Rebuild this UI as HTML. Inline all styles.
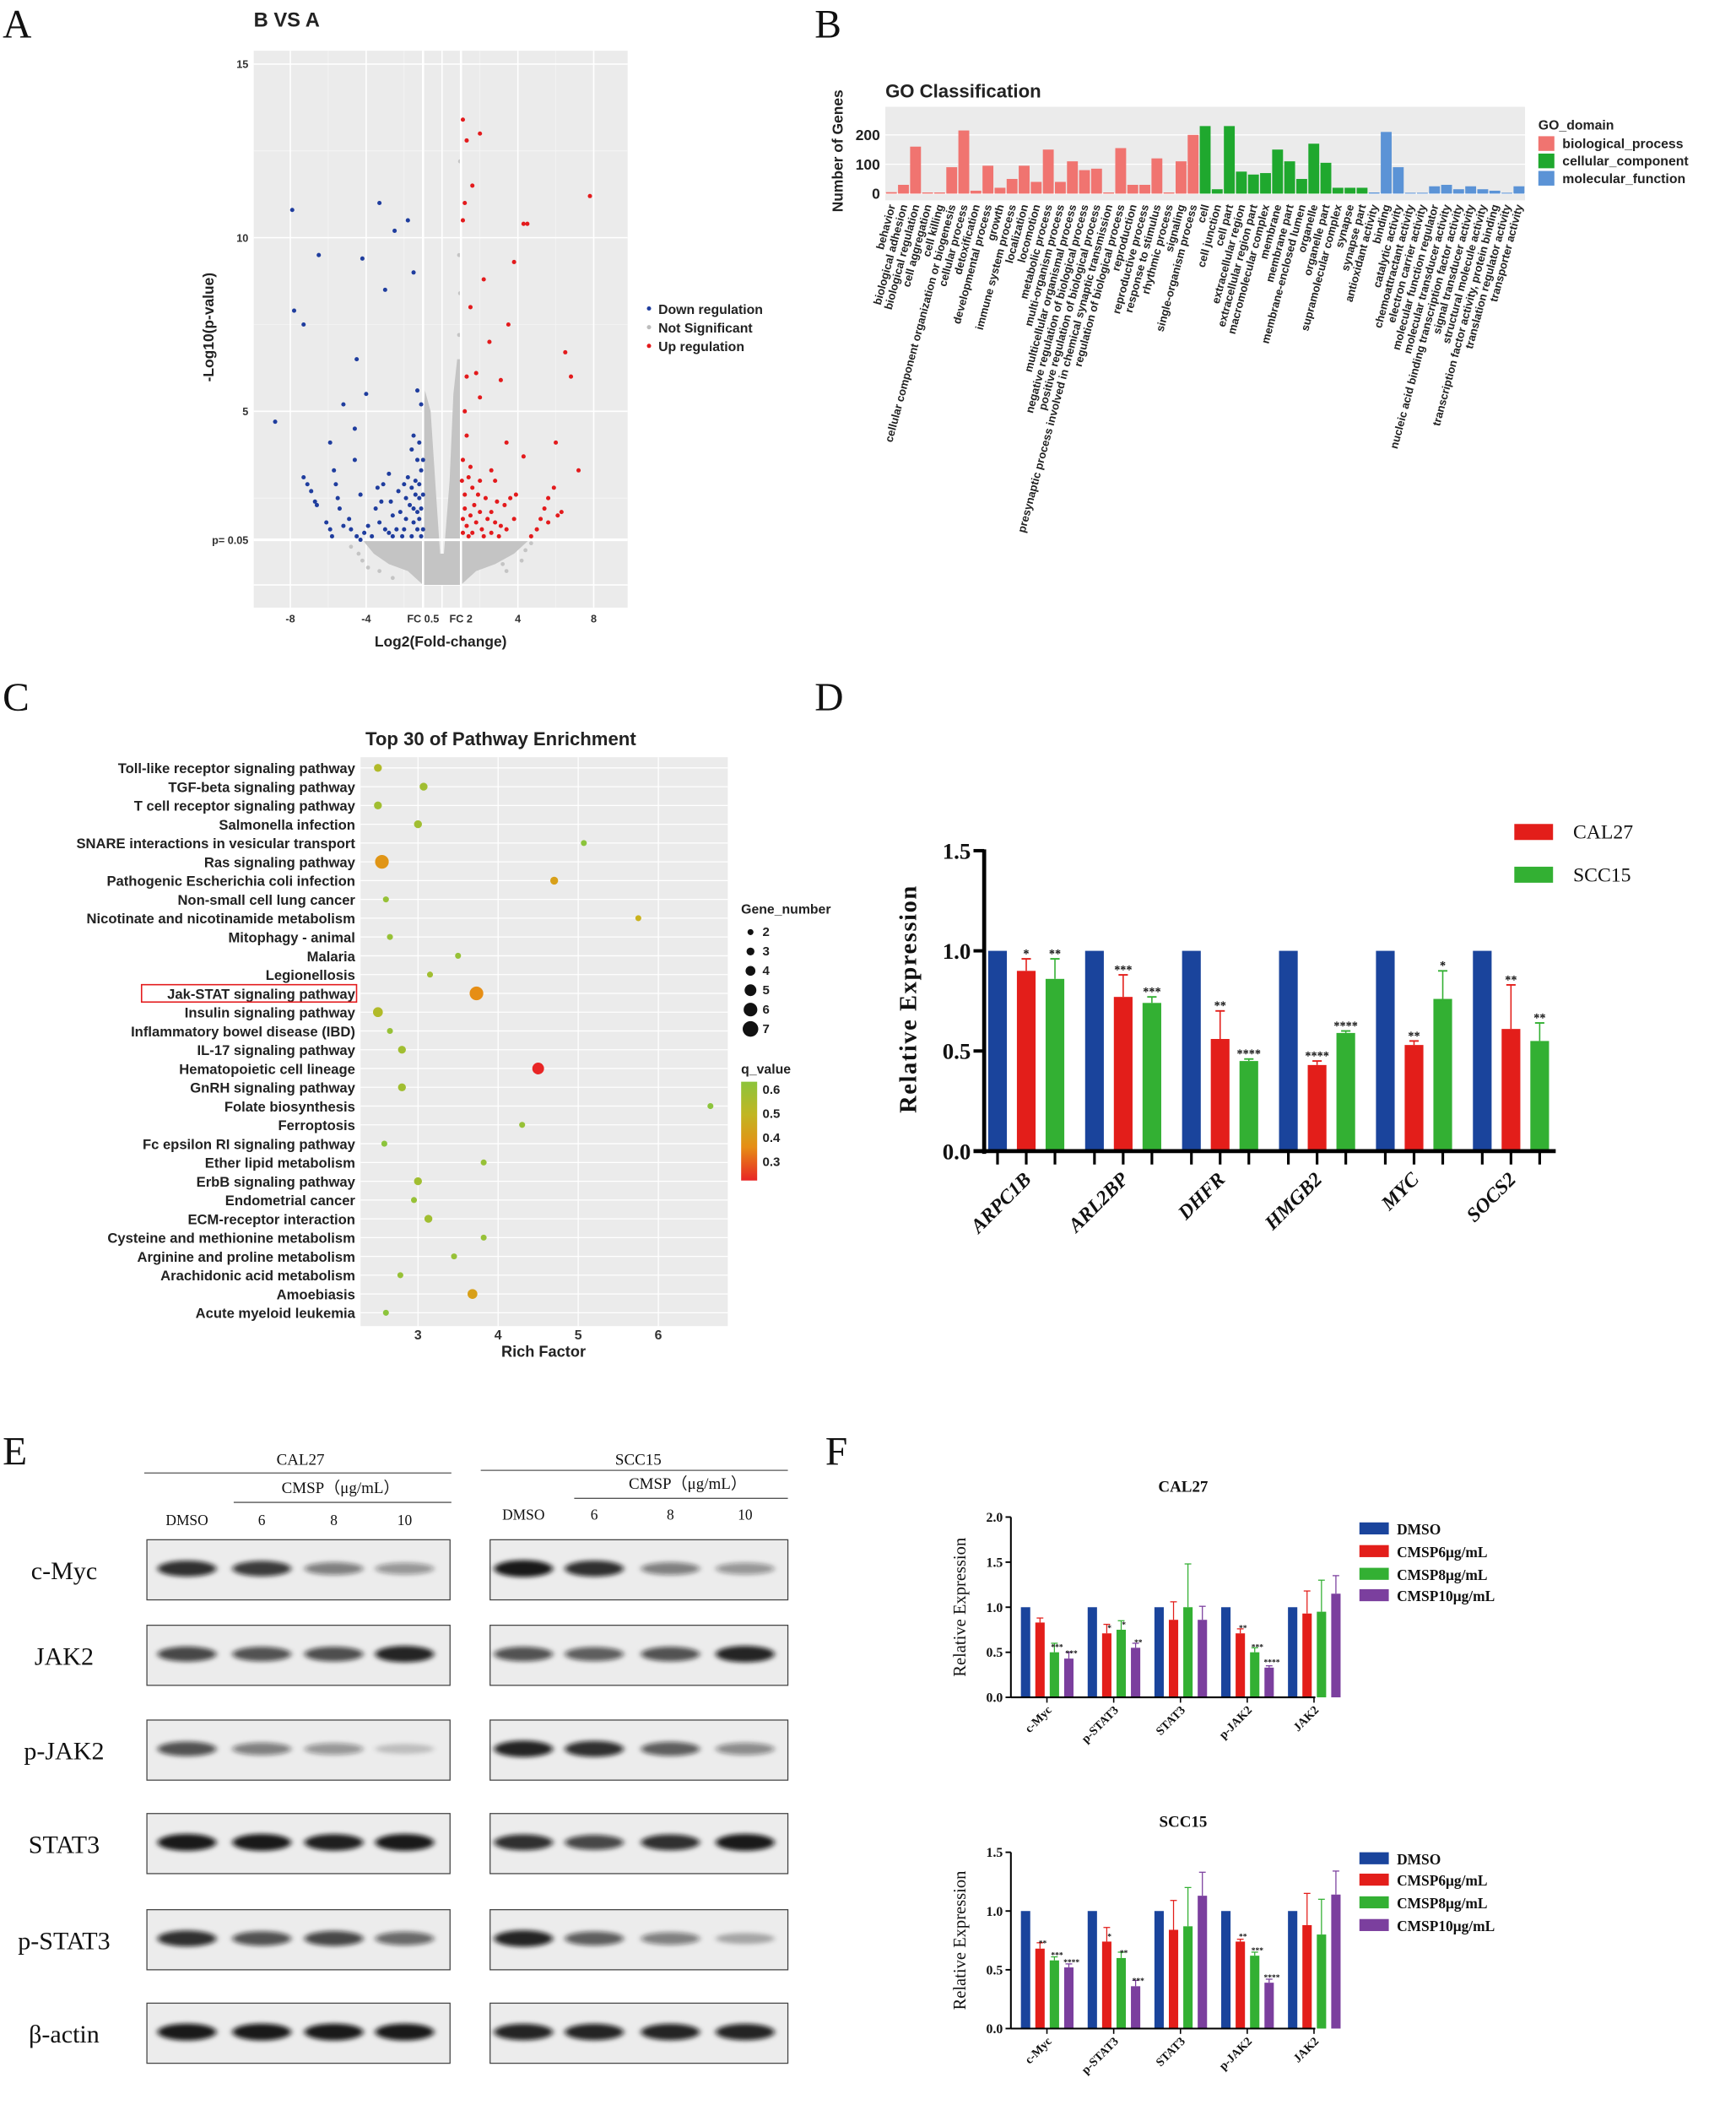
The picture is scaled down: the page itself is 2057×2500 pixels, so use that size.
<!DOCTYPE html>
<html><head><meta charset="utf-8"><style>
html,body{margin:0;padding:0;background:#fff}
svg{display:block}
.ss{font-family:"Liberation Sans",Arial,sans-serif;font-weight:bold}
.sf{font-family:"Liberation Serif","Times New Roman",serif}
</style></head><body>
<svg id="fig" width="2057" height="2500" viewBox="0 0 1300 1580" xmlns="http://www.w3.org/2000/svg">
<g id="letters" class="sf" font-size="30" fill="#111">
<text x="2" y="28">A</text>
<text x="610" y="28">B</text>
<text x="2" y="532">C</text>
<text x="610" y="532">D</text>
<text x="2" y="1097">E</text>
<text x="618" y="1097">F</text>
</g>
<g id="pA"></g>
<g id="pB"></g>
<g id="pC"></g>
<g id="pD"></g>
<g id="pE"></g>
<g id="pF"></g>
</svg>
<script>
// ---------- Panel A data ----------
const volcanoBlue = [[-8.8,4.7],[-7.8,7.9],[-7.3,7.5],[-7.9,10.8],[-6.5,9.5],[-4.2,9.4],[-3.3,11],[-2.5,10.2],[-3,8.5],[-1.8,10.5],[-1.5,9],[-4.5,6.5],[-4,5.5],[-5.2,5.2],[-4.6,4.5],[-4.6,3.6],[-4.3,2.6],[-1.6,3.9],[-2.8,3.2],[-3.4,2.8],[-3.1,2.9],[-7.3,3.1],[-7.1,2.9],[-6.9,2.7],[-6.7,2.4],[-6.6,2.3],[-5.9,4.1],[-5.7,3.3],[-5.6,2.9],[-5.5,2.5],[-5.4,2.2],[-6.1,1.8],[-5.9,1.6],[-5.8,1.4],[-5.2,1.7],[-4.9,1.9],[-4.8,1.6],[-4.5,1.4],[-4.3,1.3],[-3.5,2.2],[-3.3,1.8],[-3.0,1.6],[-2.8,1.5],[-2.6,1.4],[-2.6,2.0],[-2.2,2.1],[-2.0,1.6],[-1.9,1.9],[-1.7,2.3],[-1.5,1.8],[-1.3,1.6],[-1.2,1.9],[-1.1,2.2],[-1.4,2.6],[-1.2,2.9],[-1.1,3.3],[-1.3,3.6],[-1.1,1.4],[-1.6,1.4],[-2.3,2.7],[-2.0,2.9],[-1.8,3.1],[-1.4,3.0],[-1.2,2.5],[-1.5,2.2],[-2.4,1.6],[-1.9,2.5],[-1.6,2.8],[-1.3,2.1],[-1.0,1.6],[-1.0,2.6],[-1.0,3.6],[-1.5,4.3],[-1.2,4.1],[-2.1,1.4],[-3.7,1.4],[-3.9,1.7],[-4.1,1.5],[-2.7,2.4],[-3.2,2.4],[-1.1,5.2],[-1.3,5.6]];
const volcanoRed = [[1.1,13.4],[1.3,12.8],[2,13],[1.2,11],[1.6,11.5],[1.1,10.5],[4.3,10.4],[4.5,10.4],[7.8,11.2],[3.8,9.3],[2.2,8.8],[1.5,8],[2.5,7],[3.5,7.5],[6.5,6.7],[6.8,6],[1.3,6],[1.8,6.1],[3.1,5.9],[2.0,5.4],[3.4,4.1],[4.3,3.7],[6.0,4.1],[7.2,3.3],[5.9,2.8],[5.6,2.5],[5.4,2.2],[5.2,1.9],[5.0,1.6],[4.7,1.4],[5.6,1.8],[6.1,2.0],[6.3,2.1],[1.3,4.3],[1.1,3.6],[2.6,3.3],[2.8,3.0],[1.4,3.1],[1.6,2.8],[1.9,2.6],[2.3,2.5],[2.9,2.4],[3.3,2.3],[3.6,2.5],[1.2,2.2],[1.5,2.0],[1.8,1.8],[2.1,1.6],[2.6,1.5],[3.0,1.4],[3.4,1.6],[3.8,1.9],[1.1,1.5],[1.3,1.7],[1.6,1.5],[2.0,2.1],[2.4,1.9],[2.8,1.8],[1.2,2.6],[1.1,1.9],[1.4,1.4],[1.7,2.3],[2.2,1.4],[2.6,2.1],[3.1,1.7],[1.05,3.0],[1.5,3.4],[2.0,3.0],[3.9,2.6],[1.2,5.0]];
const greyShape = [[-4.2,1.3],[-1,1.3],[-1,4.5],[-0.9,5.6],[-0.6,5],[-0.3,2.5],[-0.1,0.9],[0.1,0.9],[0.4,3],[0.6,5.5],[0.8,6.5],[1,6.5],[1,1.3],[4.6,1.3],[3.8,0.9],[2.8,0.6],[1.8,0.4],[1,0],[-1,0],[-1.8,0.4],[-2.8,0.6],[-3.6,0.9]];
const greyDots = [[-4.8,1.1],[-4.4,0.9],[-4.2,0.7],[-3.9,0.5],[-3.3,0.4],[-2.6,0.2],[3.2,0.6],[3.4,0.4],[4.2,0.7],[4.4,1.0],[4.7,1.2],[0.9,7.2],[0.95,8.4],[0.9,9.5],[0.95,12.2]];
const volXTicks = [-8,-4,4,8];
const volYTicks = [5,10,15];

// ---------- Panel B data ----------
const goCats = ["behavior","biological adhesion","biological regulation","cell aggregation","cell killing","cellular component organization or biogenesis","cellular process","detoxification","developmental process","growth","immune system process","localization","locomotion","metabolic process","multi-organism process","multicellular organismal process","negative regulation of biological process","positive regulation of biological process","presynaptic process involved in chemical synaptic transmission","regulation of biological process","reproduction","reproductive process","response to stimulus","rhythmic process","signaling","single-organism process","cell","cell junction","cell part","extracellular region","extracellular region part","macromolecular complex","membrane","membrane part","membrane-enclosed lumen","organelle","organelle part","supramolecular complex","synapse","synapse part","antioxidant activity","binding","catalytic activity","chemoattractant activity","electron carrier activity","molecular function regulator","molecular transducer activity","nucleic acid binding transcription factor activity","signal transducer activity","structural molecule activity","transcription factor activity, protein binding","translation regulator activity","transporter activity"];
const goValues = [5,30,160,4,4,90,215,10,95,20,50,95,40,150,40,110,80,85,4,155,30,30,120,4,110,200,230,15,230,75,65,70,150,110,50,170,105,20,20,20,4,210,90,3,3,25,30,15,25,15,10,3,25];
const goDomain = [0,0,0,0,0,0,0,0,0,0,0,0,0,0,0,0,0,0,0,0,0,0,0,0,0,0,1,1,1,1,1,1,1,1,1,1,1,1,1,1,2,2,2,2,2,2,2,2,2,2,2,2,2];
const goDomainNames = ["biological_process","cellular_component","molecular_function"];
const goYTicks = [0,100,200];

// ---------- Panel C data ----------
const pathNames = ["Toll-like receptor signaling pathway","TGF-beta signaling pathway","T cell receptor signaling pathway","Salmonella infection","SNARE interactions in vesicular transport","Ras signaling pathway","Pathogenic Escherichia coli infection","Non-small cell lung cancer","Nicotinate and nicotinamide metabolism","Mitophagy - animal","Malaria","Legionellosis","Jak-STAT signaling pathway","Insulin signaling pathway","Inflammatory bowel disease (IBD)","IL-17 signaling pathway","Hematopoietic cell lineage","GnRH signaling pathway","Folate biosynthesis","Ferroptosis","Fc epsilon RI signaling pathway","Ether lipid metabolism","ErbB signaling pathway","Endometrial cancer","ECM-receptor interaction","Cysteine and methionine metabolism","Arginine and proline metabolism","Arachidonic acid metabolism","Amoebiasis","Acute myeloid leukemia"];
const richFactor = [2.5,3.07,2.5,3.0,5.07,2.55,4.7,2.6,5.75,2.65,3.5,3.15,3.73,2.5,2.65,2.8,4.5,2.8,6.65,4.3,2.58,3.82,3.0,2.95,3.13,3.82,3.45,2.78,3.68,2.6];
const geneNumber = [3,3,3,3,2,6,3,2,2,2,2,2,6,4,2,3,5,3,2,2,2,2,3,2,3,2,2,2,4,2];
const qValue = [0.55,0.58,0.58,0.58,0.62,0.42,0.45,0.6,0.5,0.6,0.6,0.58,0.4,0.55,0.6,0.58,0.28,0.58,0.62,0.6,0.62,0.6,0.58,0.6,0.58,0.6,0.6,0.6,0.45,0.62];
const richTicks = [3,4,5,6];
const geneLegend = [2,3,4,5,6,7];
const qTicks = [0.6,0.5,0.4,0.3];

// ---------- Panel D data ----------
const dGenes = ["ARPC1B","ARL2BP","DHFR","HMGB2","MYC","SOCS2"];
const dBlue = [1,1,1,1,1,1];
const dRed = [0.9,0.77,0.56,0.43,0.53,0.61];
const dGreen = [0.86,0.74,0.45,0.59,0.76,0.55];
const dRedErr = [0.06,0.11,0.14,0.02,0.02,0.22];
const dGreenErr = [0.1,0.03,0.01,0.01,0.14,0.09];
const dRedStars = ["*","***","**","****","**","**"];
const dGreenStars = ["**","***","****","****","*","**"];
const dYTicks = [0,0.5,1.0,1.5];

// ---------- Panel E data ----------
const blotProteins = ["c-Myc","JAK2","p-JAK2","STAT3","p-STAT3","β-actin"];
const blotCal27 = [[0.85,0.8,0.5,0.4],[0.75,0.7,0.72,0.9],[0.7,0.5,0.4,0.2],[0.95,0.95,0.92,0.95],[0.85,0.7,0.75,0.6],[0.95,0.95,0.95,0.95]];
const blotScc15 = [[0.95,0.85,0.5,0.4],[0.7,0.65,0.7,0.9],[0.9,0.85,0.65,0.45],[0.85,0.75,0.85,0.95],[0.9,0.65,0.5,0.3],[0.9,0.9,0.9,0.9]];
const laneLabels = ["DMSO","6","8","10"];

// ---------- Panel F data ----------
const fProteins = ["c-Myc","p-STAT3","STAT3","p-JAK2","JAK2"];
const fSeries = ["DMSO","CMSP6μg/mL","CMSP8μg/mL","CMSP10μg/mL"];
const fCal27 = [[1,0.83,0.5,0.43],[1,0.71,0.75,0.55],[1,0.86,1.0,0.86],[1,0.71,0.5,0.33],[1,0.93,0.95,1.15]];
const fCal27Err = [[0,0.05,0.1,0.07],[0,0.1,0.1,0.05],[0,0.2,0.48,0.15],[0,0.05,0.05,0.02],[0,0.25,0.35,0.2]];
const fCal27Stars = [["","","***","***"],["","*","*","**"],["","","",""],["","**","***","****"],["","","",""]];
const fScc15 = [[1,0.68,0.58,0.52],[1,0.74,0.6,0.36],[1,0.84,0.87,1.13],[1,0.74,0.62,0.39],[1,0.88,0.8,1.14]];
const fScc15Err = [[0,0.05,0.03,0.03],[0,0.12,0.05,0.05],[0,0.25,0.33,0.2],[0,0.02,0.03,0.03],[0,0.27,0.3,0.2]];
const fScc15Stars = [["","**","***","****"],["","*","**","***"],["","","",""],["","**","***","****"],["","","",""]];
const fCalTicks = [0,0.5,1.0,1.5,2.0];
const fSccTicks = [0,0.5,1.0,1.5];

const NS="http://www.w3.org/2000/svg";
function mk(parent,tag,attrs,text){const e=document.createElementNS(NS,tag);for(const k in attrs)e.setAttribute(k,attrs[k]);if(text!==undefined)e.textContent=text;parent.appendChild(e);return e;}

// ================= Panel A =================
(function(){
const g=document.getElementById('pA');
const X0=190,X1=470,Y0=38,Y1=455;
const xs=v=>331+v*14.2, ys=v=>438-v*26;
let bg=mk(g,'rect',{x:X0,y:Y0,width:X1-X0,height:Y1-Y0,fill:'#ebebeb'});


[-6,-2,2,6].forEach(v=>mk(g,'line',{x1:xs(v),x2:xs(v),y1:Y0,y2:Y1,stroke:'#f5f5f5','stroke-width':0.5}));
[2.5,7.5,12.5].forEach(v=>mk(g,'line',{x1:X0,x2:X1,y1:ys(v),y2:ys(v),stroke:'#f5f5f5','stroke-width':0.5}));
volXTicks.concat([0]).forEach(v=>mk(g,'line',{x1:xs(v),x2:xs(v),y1:Y0,y2:Y1,stroke:'#fff','stroke-width':1}));
volYTicks.concat([0]).forEach(v=>mk(g,'line',{x1:X0,x2:X1,y1:ys(v),y2:ys(v),stroke:'#fff','stroke-width':1}));
let poly=mk(g,'polygon',{points:greyShape.map(p=>xs(p[0])+','+ys(p[1])).join(' '),fill:'#c4c4c4'});


greyDots.forEach(p=>{const c=mk(g,'circle',{cx:xs(p[0]),cy:ys(p[1]),r:1.5,fill:'#c4c4c4'});});
[-1,1].forEach(v=>mk(g,'line',{x1:xs(v),x2:xs(v),y1:Y0,y2:Y1,stroke:'#fff','stroke-width':1.6}));
mk(g,'line',{x1:X0,x2:X1,y1:ys(1.3),y2:ys(1.3),stroke:'#fff','stroke-width':2});
volcanoBlue.forEach(p=>{const c=mk(g,'circle',{cx:xs(p[0]),cy:ys(p[1]),r:1.6,fill:'#1f3d9e'});});
volcanoRed.forEach(p=>{const c=mk(g,'circle',{cx:xs(p[0]),cy:ys(p[1]),r:1.6,fill:'#e31a1c'});});
const t=mk(g,'g',{class:'ss','font-size':8,fill:'#333'});
volXTicks.forEach(v=>mk(t,'text',{x:xs(v),y:466,'text-anchor':'middle'},String(v)));
mk(t,'text',{x:xs(-1),y:466,'text-anchor':'middle'},'FC 0.5');
mk(t,'text',{x:xs(1),y:466,'text-anchor':'middle'},'FC 2');
volYTicks.forEach(v=>mk(t,'text',{x:186,y:ys(v)+3,'text-anchor':'end'},String(v)));
mk(t,'text',{x:186,y:ys(1.3)+3,'text-anchor':'end'},'p= 0.05');
let xt=mk(g,'text',{x:330,y:484,class:'ss','font-size':11,'text-anchor':'middle',fill:'#222'},'Log2(Fold-change)');

let yt=mk(g,'text',{x:0,y:0,class:'ss','font-size':11,'text-anchor':'middle',fill:'#222',transform:'translate(160,245) rotate(-90)'},'-Log10(p-value)');

let tt=mk(g,'text',{x:190,y:20,class:'ss','font-size':15,fill:'#222'},'B VS A');

const leg=[['Down regulation','#1f3d9e'],['Not Significant','#bdbdbd'],['Up regulation','#e31a1c']];
leg.forEach((l,i)=>{const lg=mk(g,'g',{});
mk(lg,'circle',{cx:486,cy:231+i*14,r:1.6,fill:l[1]});mk(lg,'text',{x:493,y:235+i*14,class:'ss','font-size':10,fill:'#222'},l[0]);});
})();

// ================= Panel B =================
(function(){
const g=document.getElementById('pB');
const X0=663,X1=1142,Y0=80,Y1=150,ybase=145;
const colors=['#f07470','#1fa82e','#5b93d6'];
const ys=v=>ybase-v*0.22;
const bw=(X1-X0)/goCats.length;
let bg=mk(g,'rect',{x:X0,y:Y0,width:X1-X0,height:Y1-Y0,fill:'#ebebeb'});

goYTicks.forEach(v=>mk(g,'line',{x1:X0,x2:X1,y1:ys(v),y2:ys(v),stroke:'#fff','stroke-width':0.8}));
goValues.forEach((v,i)=>{
 const x=X0+i*bw+bw*0.05;
 const r=mk(g,'rect',{x:x,y:ys(v),width:bw*0.9,height:v*0.22,fill:colors[goDomain[i]]});
 
 const cx=X0+i*bw+bw*0.5+3;
 mk(g,'text',{x:0,y:0,class:'ss','font-size':8.3,'text-anchor':'end',fill:'#222',transform:`translate(${cx},${Y1+4}) rotate(-75)`},goCats[i]);
});
goYTicks.forEach(v=>mk(g,'text',{x:X0-4,y:ys(v)+4,class:'ss','font-size':11,'text-anchor':'end',fill:'#222'},String(v)));
let yt=mk(g,'text',{x:0,y:0,class:'ss','font-size':11,'text-anchor':'middle',fill:'#222',transform:'translate(631,113) rotate(-90)'},'Number of Genes');

let tt=mk(g,'text',{x:663,y:73,class:'ss','font-size':14,fill:'#222'},'GO Classification');

mk(g,'text',{x:1152,y:97,class:'ss','font-size':10,fill:'#222'},'GO_domain');
goDomainNames.forEach((n,i)=>{const lg=mk(g,'g',{});
 mk(lg,'rect',{x:1152,y:102+i*13,width:12,height:11,fill:colors[i]});mk(lg,'text',{x:1170,y:111+i*13,class:'ss','font-size':10,fill:'#222'},n);});
})();

// ================= Panel C =================
(function(){
const g=document.getElementById('pC');
const X0=270,X1=545,Y0=567,Y1=993;
const xs=v=>313+(v-3)*60, ys=i=>575+i*14.07;
const rs=n=>0.8+n*0.72;
function qcol(q){const t=Math.max(0,Math.min(1,(q-0.28)/(0.62-0.28)));
 const stops=[[232,37,37],[232,140,20],[200,180,30],[140,196,60]];const p=t*3,i=Math.min(2,Math.floor(p)),f=p-i;
 const c=stops[i].map((s,k)=>Math.round(s+(stops[i+1][k]-s)*f));return `rgb(${c[0]},${c[1]},${c[2]})`;}
let bg=mk(g,'rect',{x:X0,y:Y0,width:X1-X0,height:Y1-Y0,fill:'#ebebeb'});

richTicks.forEach(v=>mk(g,'line',{x1:xs(v),x2:xs(v),y1:Y0,y2:Y1,stroke:'#fff','stroke-width':0.8}));
pathNames.forEach((n,i)=>{mk(g,'line',{x1:X0,x2:X1,y1:ys(i),y2:ys(i),stroke:'#fff','stroke-width':0.8});
 const lab=mk(g,'text',{x:266,y:ys(i)+4,class:'ss','font-size':10.5,'text-anchor':'end',fill:'#222'},n);
 });
richFactor.forEach((v,i)=>{const c=mk(g,'circle',{cx:xs(v),cy:ys(i),r:rs(geneNumber[i]),fill:qcol(qValue[i])});
 });
const hl=mk(g,'rect',{x:106,y:ys(12)-6.5,width:161,height:13,fill:'none',stroke:'#e31a1c','stroke-width':1});

richTicks.forEach(v=>mk(g,'text',{x:xs(v),y:1003,class:'ss','font-size':10,'text-anchor':'middle',fill:'#333'},String(v)));
let xt=mk(g,'text',{x:407,y:1016,class:'ss','font-size':11.5,'text-anchor':'middle',fill:'#222'},'Rich Factor');

let tt=mk(g,'text',{x:375,y:558,class:'ss','font-size':14,'text-anchor':'middle',fill:'#222'},'Top 30 of Pathway Enrichment');

mk(g,'text',{x:555,y:684,class:'ss','font-size':10,fill:'#222'},'Gene_number');
geneLegend.forEach((n,i)=>{const lg=mk(g,'g',{});
 mk(lg,'circle',{cx:562,cy:698+i*14.5,r:rs(n),fill:'#111'});mk(lg,'text',{x:571,y:701+i*14.5,class:'ss','font-size':9.5,fill:'#222'},String(n));});
mk(g,'text',{x:555,y:804,class:'ss','font-size':10,fill:'#222'},'q_value');
const defs=mk(g,'defs',{});const lgr=mk(defs,'linearGradient',{id:'qgrad',x1:0,y1:0,x2:0,y2:1});
[[0,0.62],[0.33,0.52],[0.66,0.4],[1,0.28]].forEach(s=>mk(lgr,'stop',{offset:s[0],'stop-color':qcol(s[1])}));
const cb=mk(g,'rect',{x:555,y:810,width:12,height:74,fill:'url(#qgrad)'});

qTicks.forEach(v=>mk(g,'text',{x:571,y:819+(0.6-v)*180,class:'ss','font-size':9.5,fill:'#222'},v.toFixed(1)));
})();

// ================= Panel D =================
(function(){
const g=document.getElementById('pD');
const ax=737,y0=862,ys=v=>y0-v*150;
const gx=i=>747+i*72.6;
const bw=14;
const series=[[dBlue,'#1a449c',null,null],[dRed,'#e31e1a',dRedErr,dRedStars],[dGreen,'#33b033',dGreenErr,dGreenStars]];
dGenes.forEach((gn,i)=>{
 series.forEach((s,k)=>{
  const cx=gx(i)+k*21.5, v=s[0][i];
  const r=mk(g,'rect',{x:cx-bw/2,y:ys(v),width:bw,height:v*150,fill:s[1]});
  
  if(s[2]){const top=ys(v+s[2][i]);
   mk(g,'line',{x1:cx,x2:cx,y1:ys(v),y2:top,stroke:s[1],'stroke-width':1});
   mk(g,'line',{x1:cx-3.5,x2:cx+3.5,y1:top,y2:top,stroke:s[1],'stroke-width':1.2});
   mk(g,'text',{x:cx,y:top-1,class:'sf','font-size':9,'font-weight':'bold','text-anchor':'middle',fill:'#111'},s[3][i]);}
  mk(g,'line',{x1:cx,x2:cx,y1:y0,y2:y0+10,stroke:'#000','stroke-width':2});
 });
 mk(g,'text',{x:0,y:0,class:'sf','font-size':15,'font-weight':'bold','font-style':'italic','text-anchor':'end',fill:'#111',transform:`translate(${gx(i)+26},${y0+22}) rotate(-45)`},gn);
});
mk(g,'line',{x1:ax,x2:ax,y1:ys(1.5)-1,y2:y0+2,stroke:'#000','stroke-width':3});
mk(g,'line',{x1:ax-8,x2:1165,y1:y0,y2:y0,stroke:'#000','stroke-width':3});
dYTicks.forEach(v=>{mk(g,'line',{x1:ax-8,x2:ax,y1:ys(v),y2:ys(v),stroke:'#000','stroke-width':2.5});
 mk(g,'text',{x:ax-10,y:ys(v)+6,class:'sf','font-size':17,'font-weight':'bold','text-anchor':'end',fill:'#111'},v.toFixed(1));});
let yt=mk(g,'text',{x:0,y:0,class:'sf','font-size':18,'font-weight':'bold','letter-spacing':'1','text-anchor':'middle',fill:'#111',transform:'translate(686,748) rotate(-90)'},'Relative Expression');

[['CAL27','#e31e1a'],['SCC15','#33b033']].forEach((l,i)=>{const lg=mk(g,'g',{});
 mk(lg,'rect',{x:1134,y:617+i*32,width:29,height:12,fill:l[1]});mk(lg,'text',{x:1178,y:628+i*32,class:'sf','font-size':15,fill:'#111'},l[0]);});
})();

// ================= Panel E =================
(function(){
const g=document.getElementById('pE');
const rows=[1153,1217,1288,1358,1430,1500], rh=45;
const defs=mk(g,'defs',{});
const fl=mk(defs,'filter',{id:'blur',x:'-20%',y:'-50%',width:'140%',height:'200%'});mk(fl,'feGaussianBlur',{stdDeviation:'2.2 1.6'});
function blot(x0,w,data,lanes){
 rows.forEach((y,r)=>{
  const bx=mk(g,'rect',{x:x0,y:y,width:w,height:rh,fill:'#ececec',stroke:'#444','stroke-width':0.8});
  
  data[r].forEach((v,l)=>{const b=mk(g,'ellipse',{cx:lanes[l],cy:y+rh*0.48,rx:22,ry:3+v*3.5,fill:'#111','fill-opacity':v,filter:'url(#blur)'});
   });
 });
}
blot(110,227,blotCal27,[140,196,250,303]);
blot(367,223,blotScc15,[392,445,502,558]);
blotProteins.forEach((p,i)=>{const t=mk(g,'text',{x:48,y:rows[i]+rh/2+7,class:'sf','font-size':19,'text-anchor':'middle',fill:'#111'},p);
 });
const hdr=[[225,108,338,1097,1103,255,175,1118,1125,[140,196,250,303],1142,'CAL27'],[478,360,590,1097,1101,515,430,1115,1122,[392,445,502,558],1138,'SCC15']];
hdr.forEach(h=>{
 mk(g,'text',{x:h[0],y:h[3],class:'sf','font-size':12,'text-anchor':'middle',fill:'#111'},h[11]);
 mk(g,'line',{x1:h[1],x2:h[2],y1:h[4],y2:h[4],stroke:'#555','stroke-width':0.8});
 mk(g,'text',{x:h[5],y:h[7],class:'sf','font-size':12,'text-anchor':'middle',fill:'#111'},'CMSP（μg/mL）');
 mk(g,'line',{x1:h[6],x2:h[2],y1:h[8],y2:h[8],stroke:'#555','stroke-width':0.8});
 laneLabels.forEach((l,i)=>mk(g,'text',{x:h[9][i],y:h[10],class:'sf','font-size':11,'text-anchor':'middle',fill:'#111'},l));
});
})();

// ================= Panel F =================
(function(){
const g=document.getElementById('pF');
const cols=['#1a449c','#e31e1a','#33b033','#7b3f9e'];
function chart(title,ty,y0,scale,ticks,vals,errs,stars,legY){
 const ax=757, ys=v=>y0-v*scale, gx=i=>768+i*50;
 vals.forEach((grp,i)=>{
  grp.forEach((v,k)=>{const cx=gx(i)+k*10.8;
   const r=mk(g,'rect',{x:cx-3.5,y:ys(v),width:7,height:v*scale,fill:cols[k]});
   
   if(errs[i][k]>0){const top=ys(v+errs[i][k]);
    mk(g,'line',{x1:cx,x2:cx,y1:ys(v),y2:top,stroke:cols[k],'stroke-width':0.8});
    mk(g,'line',{x1:cx-2.5,x2:cx+2.5,y1:top,y2:top,stroke:cols[k],'stroke-width':0.8});}
   if(stars[i][k])mk(g,'text',{x:cx+2,y:ys(v)-2,class:'sf','font-size':6,'font-weight':'bold','text-anchor':'middle',fill:'#111'},stars[i][k]);
  });
  mk(g,'line',{x1:gx(i)+16,x2:gx(i)+16,y1:y0,y2:y0+4,stroke:'#000','stroke-width':1});
  mk(g,'text',{x:0,y:0,class:'sf','font-size':9,'font-weight':'bold','text-anchor':'end',fill:'#111',transform:`translate(${gx(i)+20},${y0+10}) rotate(-45)`},fProteins[i]);
 });
 mk(g,'line',{x1:ax,x2:ax,y1:ys(ticks[ticks.length-1]),y2:y0,stroke:'#000','stroke-width':1.3});
 mk(g,'line',{x1:ax,x2:985,y1:y0,y2:y0,stroke:'#000','stroke-width':1.3});
 ticks.forEach(v=>{mk(g,'line',{x1:ax-4,x2:ax,y1:ys(v),y2:ys(v),stroke:'#000','stroke-width':1.2});
  mk(g,'text',{x:ax-6,y:ys(v)+3.5,class:'sf','font-size':10,'font-weight':'bold','text-anchor':'end',fill:'#111'},v.toFixed(1));});
 const yt=mk(g,'text',{x:0,y:0,class:'sf','font-size':13,'text-anchor':'middle',fill:'#111',transform:`translate(723,${(y0+ys(ticks[ticks.length-1]))/2}) rotate(-90)`},'Relative Expression');
 
 const tt=mk(g,'text',{x:886,y:ty,class:'sf','font-size':12,'font-weight':'bold','text-anchor':'middle',fill:'#111'},title);
 
 fSeries.forEach((s,k)=>{const lg=mk(g,'g',{});
  mk(lg,'rect',{x:1018,y:legY[k]-5,width:22,height:9,fill:cols[k]});
  mk(lg,'text',{x:1046,y:legY[k]+4,class:'sf','font-size':11,'font-weight':'bold',fill:'#111'},s);});
}
chart('CAL27',1117,1271,67.5,fCalTicks,fCal27,fCal27Err,fCal27Stars,[1145,1162,1179,1195]);
chart('SCC15',1368,1519,88,fSccTicks,fScc15,fScc15Err,fScc15Stars,[1392,1408,1425,1442]);
})();
</script>
</body></html>
